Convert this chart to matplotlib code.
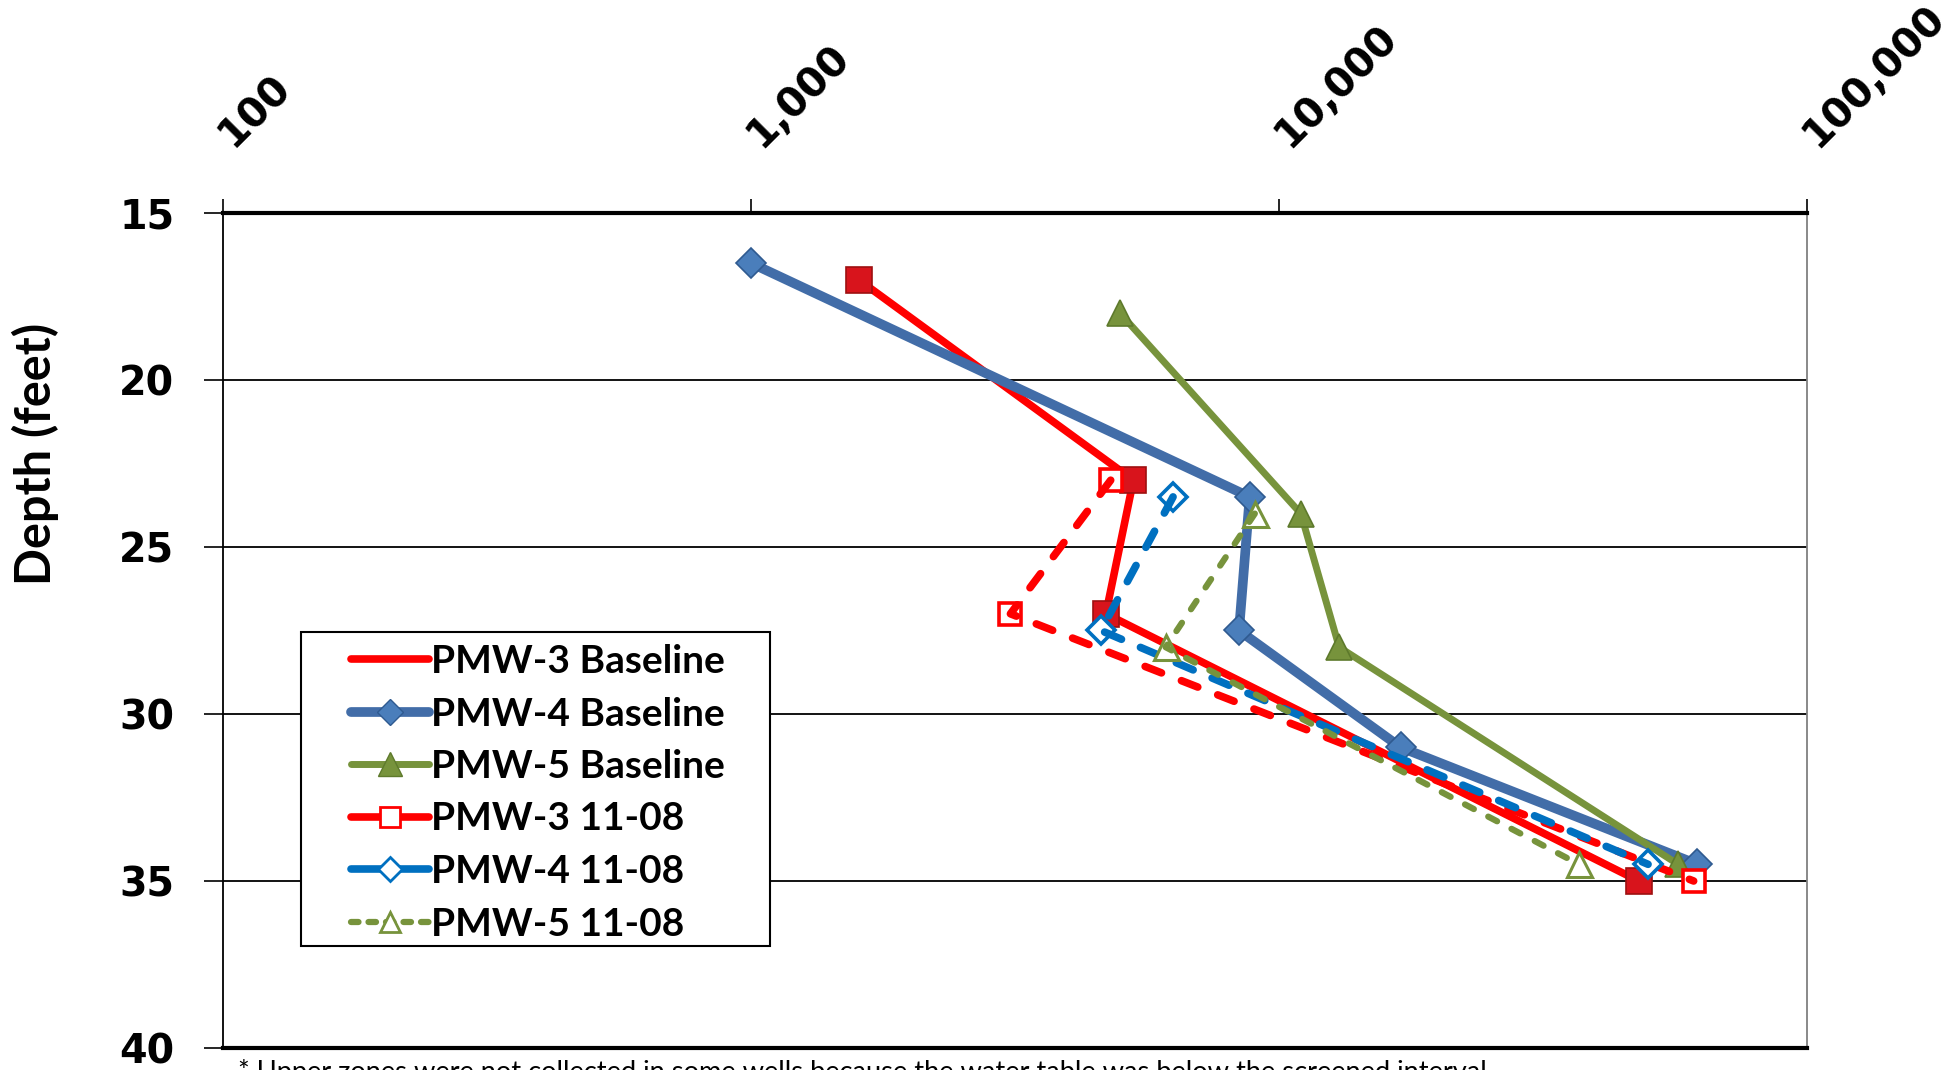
import matplotlib
matplotlib.use("Agg")
import matplotlib.pyplot as plt
import matplotlib.transforms as mtransforms
from matplotlib.lines import Line2D
from matplotlib.patches import Rectangle
from matplotlib.ticker import FixedLocator, NullLocator

# Concentration readings vs. depth for each well
pmw3_base_conc = [1600, 5300, 4700, 48000]
pmw3_base_depth = [17, 23, 27, 35]
pmw4_base_conc = [1000, 8800, 8400, 17000, 62000]
pmw4_base_depth = [16.5, 23.5, 27.5, 31, 34.5]
pmw5_base_conc = [5000, 11000, 13000, 57000]
pmw5_base_depth = [18, 24, 28, 34.5]
pmw3_1108_conc = [4800, 3100, 61000]
pmw3_1108_depth = [23, 27, 35]
pmw4_1108_conc = [6300, 4600, 50000]
pmw4_1108_depth = [23.5, 27.5, 34.5]
pmw5_1108_conc = [9000, 6100, 37000]
pmw5_1108_depth = [24, 28, 34.5]

x_ticks = [100, 1000, 10000, 100000]
x_tick_labels = ["100", "1,000", "10,000", "100,000"]
y_ticks = [15, 20, 25, 30, 35, 40]
series_names = ["PMW-3 Baseline", "PMW-4 Baseline", "PMW-5 Baseline",
                "PMW-3 11-08", "PMW-4 11-08", "PMW-5 11-08"]
footnote = ("* Upper zones were not collected in some wells because the water "
            "table was below the screened interval.")

RED = "#FF0000"
RED_MK = "#D8141C"
BLUE = "#426DA8"
BLUE_MK = "#4A7EBB"
BLUE2 = "#0070C0"
GREEN = "#77933C"

W, H = 1944, 1070
fig = plt.figure(figsize=(W / 100, H / 100), dpi=100)
ax = fig.add_axes([223 / W, 1 - 1048 / H, (1807 - 223) / W, (1048 - 213) / H])

ax.set_xscale("log")
ax.set_xlim(100, 100000)
ax.set_ylim(40, 15)

# horizontal gridlines
for yv in y_ticks[1:-1]:
    ax.axhline(yv, color="black", lw=1.3, zorder=1)

# baseline series
ax.plot(pmw3_base_conc, pmw3_base_depth, color=RED, lw=5.5, marker="s", ms=19,
        mfc=RED_MK, mec="#9E1010", mew=1.2, solid_capstyle="round", zorder=3)
ax.plot(pmw4_base_conc, pmw4_base_depth, color=BLUE, lw=7, marker="D", ms=15,
        mfc=BLUE_MK, mec="#2F5A90", mew=1.2, solid_capstyle="round", zorder=4)
ax.plot(pmw5_base_conc, pmw5_base_depth, color=GREEN, lw=5, marker="^", ms=19,
        mfc=GREEN, mec="#5E7A2C", mew=1.2, solid_capstyle="round", zorder=5)

# 11-08 series: open markers below the dashed lines
ax.plot(pmw3_1108_conc, pmw3_1108_depth, ls="none", marker="s", ms=16,
        mfc="white", mec=RED, mew=2.6, zorder=6)
ax.plot(pmw3_1108_conc, pmw3_1108_depth, color=RED, lw=5.5, dashes=(2.3, 2.8),
        dash_capstyle="round", zorder=7)
ax.plot(pmw4_1108_conc, pmw4_1108_depth, ls="none", marker="D", ms=14,
        mfc="white", mec=BLUE2, mew=2.6, zorder=8)
ax.plot(pmw4_1108_conc, pmw4_1108_depth, color=BLUE2, lw=5.5, dashes=(2.4, 2.7),
        dash_capstyle="round", zorder=9)
ax.plot(pmw5_1108_conc, pmw5_1108_depth, ls="none", marker="^", ms=18,
        mfc="white", mec=GREEN, mew=2.2, zorder=10)
ax.plot(pmw5_1108_conc, pmw5_1108_depth, color=GREEN, lw=4.5, dashes=(1.6, 2.6),
        dash_capstyle="round", zorder=11)

# axes styling
ax.xaxis.tick_top()
ax.xaxis.set_major_locator(FixedLocator(x_ticks))
ax.xaxis.set_minor_locator(NullLocator())
ax.set_xticklabels(x_tick_labels, rotation=45, ha="left", va="baseline",
                   rotation_mode="anchor", fontsize=29, fontweight="bold",
                   family="DejaVu Sans")
ax.tick_params(axis="x", which="major", direction="out", length=10, width=1.2,
               pad=36, top=True, bottom=False)
shift = mtransforms.ScaledTranslation(0.10, 0, fig.dpi_scale_trans)
for lbl in ax.xaxis.get_majorticklabels():
    lbl.set_transform(lbl.get_transform() + shift)
ax.set_yticks(y_ticks)
ax.set_yticklabels([str(v) for v in y_ticks], fontsize=28.5, fontweight="bold",
                   family="DejaVu Sans")
ax.tick_params(axis="y", direction="out", length=14, width=1.2, pad=21)

ax.spines["top"].set_linewidth(3)
ax.spines["bottom"].set_linewidth(3)
ax.spines["left"].set_linewidth(1.3)
ax.spines["right"].set_linewidth(1.3)
ax.spines["right"].set_color("#808080")

fig.text(35 / W, 1 - 454 / H, "Depth (feet)", rotation=90, ha="center",
         va="center", fontsize=35, fontweight="bold", family="Lato")

# legend box
ax.add_patch(Rectangle((78 / 1584, 102 / 835), (770 - 301) / 1584,
                       (946 - 632) / 835, transform=ax.transAxes,
                       facecolor="white", edgecolor="black", lw=1.5,
                       zorder=19))

handles = [
    Line2D([], [], color=RED, lw=5.5, solid_capstyle="round"),
    Line2D([], [], color=BLUE, lw=7, marker="D", ms=13, mfc=BLUE_MK,
           mec="#2F5A90", solid_capstyle="round"),
    Line2D([], [], color=GREEN, lw=5, marker="^", ms=17, mfc=GREEN,
           mec="#5E7A2C", solid_capstyle="round"),
    Line2D([], [], color=RED, lw=5.5, marker="s", ms=14, mfc="white",
           mec=RED, mew=2, solid_capstyle="round"),
    Line2D([], [], color=BLUE2, lw=5.5, marker="D", ms=12, mfc="white",
           mec=BLUE2, mew=2, solid_capstyle="round"),
    Line2D([], [], color=GREEN, lw=4.5, dashes=(1.2, 1.6), marker="^", ms=15,
           mfc="white", mec=GREEN, mew=2, dash_capstyle="round"),
]
leg = ax.legend(handles, series_names, loc="upper left",
                bbox_to_anchor=((351 - 223) / 1584, (1048 - 644) / 835),
                frameon=False, handlelength=2.0, handletextpad=0.06,
                labelspacing=0.45, borderpad=0, borderaxespad=0,
                prop={"family": "Lato", "weight": "bold", "size": 28})
leg.set_zorder(20)

fig.text(238 / W, 1 - 1059 / H, footnote, ha="left", va="top", fontsize=19.6,
         family="Lato")

fig.savefig("out.png", dpi=100)
